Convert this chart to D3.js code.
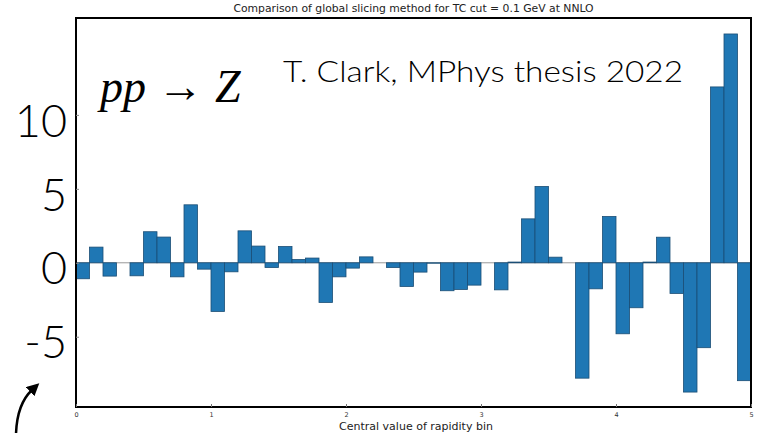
<!DOCTYPE html>
<html>
<head>
<meta charset="utf-8">
<script src="https://cdn.jsdelivr.net/npm/d3@7"></script>
<style>
  html, body { margin: 0; padding: 0; background: #fff; }
</style>
</head>
<body>
<svg id="chart"></svg>
<script>
// left edge of each rapidity bin (width 0.1)
const binStarts = [
  0.0, 0.1, 0.2, 0.3, 0.4, 0.5, 0.6, 0.7, 0.8, 0.9,
  1.0, 1.1, 1.2, 1.3, 1.4, 1.5, 1.6, 1.7, 1.8, 1.9,
  2.0, 2.1, 2.2, 2.3, 2.4, 2.5, 2.6, 2.7, 2.8, 2.9,
  3.0, 3.1, 3.2, 3.3, 3.4, 3.5, 3.6, 3.7, 3.8, 3.9,
  4.0, 4.1, 4.2, 4.3, 4.4, 4.5, 4.6, 4.7, 4.8, 4.9
];
const binWidth = 0.1;

// difference between slicing methods per bin
const diffs = [
  -1.08, 1.06, -0.9, 0.0, -0.88, 2.1, 1.74, -0.95, 3.92, -0.43,
  -3.29, -0.61, 2.16, 1.13, -0.32, 1.1, 0.22, 0.32, -2.68, -0.95,
  -0.36, 0.4, 0.0, -0.32, -1.6, -0.63, -0.03, -1.89, -1.8, -1.51,
  0.0, -1.83, 0.05, 2.97, 5.16, 0.38, 0.0, -7.8, -1.76, 3.13,
  -4.8, -3.04, 0.05, 1.73, -2.07, -8.74, -5.74, 11.89, 15.47, -7.97
];

const xTicks = [0, 1, 2, 3, 4, 5];
const yTicks = [10, 5, 0, -5];

const width = 759;
const height = 433;
const plotL = 76, plotR = 751, plotT = 18, plotB = 407;

const x = d3.scaleLinear().domain([0, 5]).range([plotL, plotR]);
const y = d3.scaleLinear().domain([-9.75, 16.55]).range([plotB, plotT]);

const svg = d3.select("#chart").attr("width", width).attr("height", height);

svg.append("text")
  .attr("x", (plotL + plotR) / 2)
  .attr("y", 12)
  .attr("text-anchor", "middle")
  .attr("font-family", "DejaVu Sans")
  .attr("font-size", 10.8)
  .attr("fill", "#222")
  .text("Comparison of global slicing method for TC cut = 0.1 GeV at NNLO");

// zero line
svg.append("line")
  .attr("x1", plotL).attr("x2", plotR)
  .attr("y1", y(0)).attr("y2", y(0))
  .attr("stroke", "#999").attr("stroke-width", 1);

const bars = binStarts.map((b, i) => ({ start: b, value: diffs[i] }));

svg.append("g")
  .selectAll("rect")
  .data(bars)
  .join("rect")
  .attr("x", (d) => x(d.start))
  .attr("width", (d) => x(d.start + binWidth) - x(d.start))
  .attr("y", (d) => y(Math.max(0, d.value)))
  .attr("height", (d) => Math.abs(y(d.value) - y(0)))
  .attr("fill", "#1f77b4")
  .attr("stroke", "#1b4e75")
  .attr("stroke-width", 0.8);

// axes frame
svg.append("rect")
  .attr("x", plotL).attr("y", plotT)
  .attr("width", plotR - plotL).attr("height", plotB - plotT)
  .attr("fill", "none")
  .attr("stroke", "#000")
  .attr("stroke-width", 2);

// x axis ticks
const xAxis = d3.axisBottom(x).tickValues(xTicks).tickSize(3).tickFormat(d3.format("d"));
const gx = svg.append("g").attr("transform", `translate(0,${plotB})`).call(xAxis);
gx.select(".domain").remove();
gx.selectAll(".tick line").attr("stroke", "#777").attr("y2", -3);
gx.selectAll(".tick text")
  .attr("y", 5)
  .attr("font-family", "DejaVu Sans")
  .attr("font-size", 6.5)
  .attr("fill", "#333");

svg.append("text")
  .attr("x", 416)
  .attr("y", 430)
  .attr("text-anchor", "middle")
  .attr("font-family", "DejaVu Sans")
  .attr("font-size", 11)
  .attr("fill", "#222")
  .text("Central value of rapidity bin");

// y axis: small inner ticks, large overlaid labels
const yAxis = d3.axisLeft(y).tickValues(yTicks).tickSize(0).tickFormat(d3.format("d"));
const gy = svg.append("g").attr("transform", `translate(${plotL},0)`).call(yAxis);
gy.select(".domain").remove();
gy.selectAll(".tick line").attr("stroke", "#888").attr("x1", 0).attr("x2", 3);
gy.selectAll(".tick text")
  .attr("x", -9)
  .attr("dy", "0.36em")
  .attr("transform", "translate(0,5)")
  .attr("font-family", "Lato")
  .attr("font-weight", 300)
  .attr("font-size", 45)
  .attr("fill", "#000")
  .text((d) => (d < 0 ? "-" + Math.abs(d) : d));

// annotations
svg.append("text")
  .attr("x", 283)
  .attr("y", 82)
  .attr("font-family", "Lato")
  .attr("font-weight", 300)
  .attr("font-size", 30)
  .attr("textLength", 400)
  .attr("lengthAdjust", "spacingAndGlyphs")
  .attr("fill", "#000")
  .text("T. Clark, MPhys thesis 2022");

const proc = svg.append("text")
  .attr("x", 100)
  .attr("y", 102)
  .attr("font-family", "Liberation Serif")
  .attr("font-size", 46)
  .attr("fill", "#000");
proc.append("tspan").attr("font-style", "italic").text("pp");
proc.append("tspan").text(" \u2192 ");
proc.append("tspan").attr("font-style", "italic").text("Z");

// curved arrow, bottom left
const defs = svg.append("defs");
defs.append("marker")
  .attr("id", "head")
  .attr("viewBox", "0 0 10 10")
  .attr("refX", 2).attr("refY", 5)
  .attr("markerWidth", 5).attr("markerHeight", 5)
  .attr("orient", "auto")
  .append("path")
  .attr("d", "M0,0 L10,5 L0,10 Z")
  .attr("fill", "#000");

svg.append("path")
  .attr("d", "M16,434 Q17,404 32,390")
  .attr("fill", "none")
  .attr("stroke", "#000")
  .attr("stroke-width", 2.5)
  .attr("marker-end", "url(#head)");
</script>
</body>
</html>
